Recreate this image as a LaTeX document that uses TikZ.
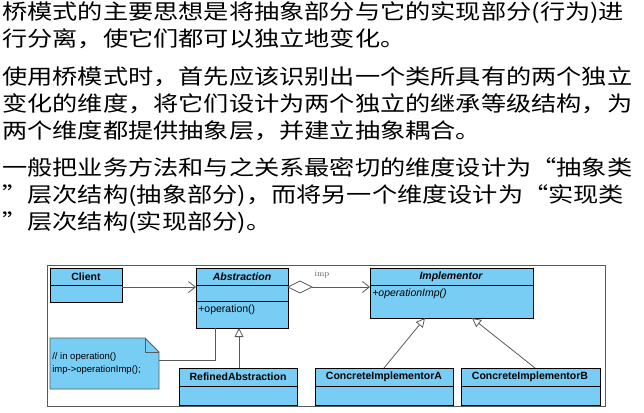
\documentclass[tikz,border=0pt]{standalone}
\usepackage{fontspec}
\setsansfont{Liberation Sans}
\newfontfamily\cjk{Noto Sans CJK SC}[BoldFont={* Bold}]
\usetikzlibrary{arrows,arrows.meta}
\definecolor{box_blue}{RGB}{120,205,245}
\definecolor{edge_gray}{RGB}{90,90,90}
\begin{document}
\begin{tikzpicture}[x=1pt,y=-1pt,semithick]
    \tikzstyle{para}=[anchor=base west, inner sep=0pt, xscale=1.2, transform shape, font=\cjk\fontsize{21}{21}\selectfont]
    \tikzstyle{cls}=[draw=black, fill=box_blue, thick]
    \tikzstyle{title}=[font=\sffamily\bfseries\fontsize{10.5}{11}\selectfont, inner sep=0pt]
    \tikzstyle{txt}=[font=\sffamily\fontsize{10.5}{12}\selectfont, inner sep=0pt, anchor=west]
    \tikzstyle{link}=[draw=edge_gray, thick]
    \tikzstyle{open}=[-{Straight Barb[length=7pt,width=11pt]}]
    \tikzstyle{gen}=[-{Triangle[open,length=9pt,width=9pt]}]

    \useasboundingbox (0,0) rectangle (644,412);

    % paragraphs
    \node[para] (l1) at (2,20)  {桥模式的主要思想是将抽象部分与它的实现部分(行为)进};
    \node[para] (l2) at (2,47)  {行分离，使它们都可以独立地变化。};
    \node[para] (l3) at (2,84)  {使用桥模式时，首先应该识别出一个类所具有的两个独立};
    \node[para] (l4) at (2,111) {变化的维度，将它们设计为两个独立的继承等级结构，为};
    \node[para] (l5) at (2,138) {两个维度都提供抽象层，并建立抽象耦合。};
    \node[para] (l6) at (2,175) {一般把业务方法和与之关系最密切的维度设计为“抽象类};
    \node[para] (l7) at (2,202) {”层次结构(抽象部分)，而将另一个维度设计为“实现类};
    \node[para] (l8) at (2,229) {”层次结构(实现部分)。};

    % frame
    \draw[draw=edge_gray, fill=white] (47,265) rectangle (605,406);

    % classes
    \draw[cls] (50,268) rectangle (122,302);  \draw[thick] (50,285) -- (122,285);
    \node[title] (client) at (86,277) {Client};
    \draw[cls] (196,268) rectangle (288,328); \draw[thick] (196,285) -- (288,285) (196,301) -- (288,301);
    \node[title] (abs) at (242,277) {\itshape Abstraction};
    \node[txt] (op) at (198,310) {+operation()};
    \draw[cls] (370,268) rectangle (533,318); \draw[thick] (370,285) -- (533,285);
    \node[title] (impl) at (451,277) {\itshape Implementor};
    \node[txt] (opi) at (372,294) {\itshape +operationImp()};
    \draw[cls] (179,368) rectangle (297,405); \draw[thick] (179,386) -- (297,386);
    \node[title] (refined) at (238,377) {RefinedAbstraction};
    \draw[cls] (315,368) rectangle (453,405); \draw[thick] (315,386) -- (453,386);
    \node[title] (conA) at (384,377) {ConcreteImplementorA};
    \draw[cls] (461,368) rectangle (600,405); \draw[thick] (461,386) -- (600,386);
    \node[title] (conB) at (530,377) {ConcreteImplementorB};

    % note
    \draw[draw=edge_gray, fill=box_blue, thick] (50,338) -- (145,338) -- (159,352) -- (159,389) -- (50,389) -- cycle;
    \draw[draw=edge_gray, thick] (145,338) -- (145,352) -- (159,352);
    \node[txt, font=\sffamily\fontsize{9.5}{13}\selectfont, align=left] (note) at (52,364) {// in operation()\\imp->operationImp();};

    % connectors
    \coordinate (cl) at (122,287);
    \coordinate (ab) at (196,287);
    \coordinate (ar) at (288,287);
    \coordinate (il) at (370,287);
    \draw[link, open] (cl) -- (ab);
    \draw[link] (ar) -- ++(12,-6) -- ++(12,6) -- ++(-12,6) -- cycle;
    \draw[link, open] (312,287) -- (il);
    \node[font=\rmfamily\fontsize{8.5}{9}\selectfont, text=edge_gray] (imp) at (322,275) {imp};
    \draw[link] (159,360) -- (215,360) -- (215,328);
    \draw[link, gen] (239,368) -- (239,328);
    \draw[link, gen] (384,368) -- (425,318);
    \draw[link, gen] (535,368) -- (472,318);
\end{tikzpicture}
\end{document}
